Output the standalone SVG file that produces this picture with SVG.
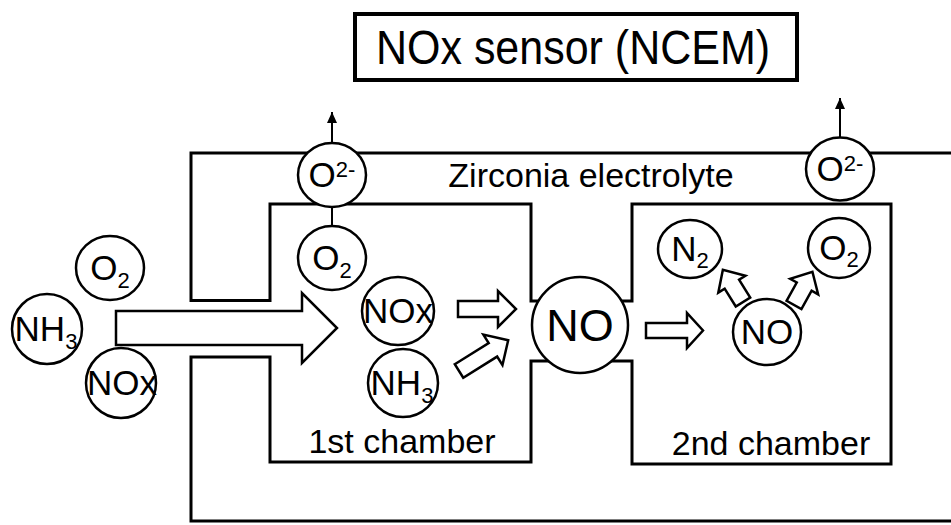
<svg xmlns="http://www.w3.org/2000/svg" width="951" height="525" viewBox="0 0 951 525">
<defs>
<style>
.wall{fill:none;stroke:#000;stroke-width:3;stroke-linejoin:miter}
.mol{fill:#fff;stroke:#000;stroke-width:2.5}
.arr{fill:#fff;stroke:#000;stroke-width:2.5;stroke-linejoin:miter}
.t{font-family:"Liberation Sans",Arial,sans-serif;fill:#000}
.lbl{font-size:35px;text-anchor:middle}
.sub{font-size:22px}
.cap{font-size:34px;text-anchor:middle}
</style>
<marker id="ah" viewBox="0 0 11 10" refX="11" refY="5" markerWidth="11" markerHeight="10" markerUnits="userSpaceOnUse" orient="auto">
<path d="M0,0 L11,5 L0,10 Z" fill="#000"/>
</marker>
<path id="sa" d="M0,-8 H40 V-18 L58,0 L40,18 V8 H0 Z"/>
<path id="ta" d="M0,-8.5 H21 V-16 L38,0 L21,16 V8.5 H0 Z"/>
</defs>
<rect width="951" height="525" fill="#fff"/>

<g id="title">
<rect x="355" y="14" width="442" height="66" fill="#fff" stroke="#000" stroke-width="4"/>
<text class="t" transform="translate(573,64) scale(1,1.1)" font-size="43" text-anchor="middle">NOx sensor (NCEM)</text>
</g>

<g id="structure">
<path class="wall" d="M951,153 H191 V300.5 H270 V204 H531 V301 H632 V204 H891 V464 H632 V361 H531 V462 H270 V357 H191 V521 H951"/>
<text class="t cap" x="591" y="187">Zirconia electrolyte</text>
<text class="t cap" x="402" y="453">1st chamber</text>
<text class="t cap" x="771" y="455">2nd chamber</text>
</g>

<g id="connectors">
<line x1="332" y1="143" x2="332" y2="112" stroke="#000" stroke-width="2" marker-end="url(#ah)"/>
<line x1="840" y1="137" x2="840" y2="98" stroke="#000" stroke-width="2" marker-end="url(#ah)"/>
<line x1="332" y1="205" x2="332" y2="227" stroke="#000" stroke-width="2"/>
<path class="arr" d="M116,311 H302 V293 L337,328 L302,363 V345 H116 Z"/>
<use href="#sa" class="arr" transform="translate(458,309)"/>
<use href="#sa" class="arr" transform="translate(459,371) rotate(-32)"/>
<path class="arr" d="M646,323 H687 V313 L703,330.5 L687,348 V338 H646 Z"/>
<use href="#ta" class="arr" transform="translate(743,302) rotate(-122)"/>
<use href="#ta" class="arr" transform="translate(794,305) rotate(-61)"/>
</g>

<g id="o2m-left">
<ellipse class="mol" cx="332" cy="175" rx="34" ry="32"/>
<text class="t lbl" x="332" y="187">O<tspan class="sub" dy="-10">2-</tspan></text>
</g>
<g id="o2m-right">
<ellipse class="mol" cx="840" cy="169" rx="34" ry="31.5"/>
<text class="t lbl" x="840" y="181">O<tspan class="sub" dy="-10">2-</tspan></text>
</g>

<g id="in-o2">
<ellipse class="mol" cx="110" cy="268" rx="34" ry="32"/>
<text class="t lbl" x="110" y="280">O<tspan class="sub" dy="8">2</tspan></text>
</g>
<g id="in-nh3">
<ellipse class="mol" cx="47" cy="329" rx="35" ry="35"/>
<text class="t lbl" x="46" y="341">NH<tspan class="sub" dy="8">3</tspan></text>
</g>
<g id="in-nox">
<ellipse class="mol" cx="121" cy="383" rx="35" ry="35"/>
<text class="t lbl" x="122" y="395">NOx</text>
</g>

<g id="c1-o2">
<ellipse class="mol" cx="332" cy="258" rx="34" ry="32"/>
<text class="t lbl" x="332" y="270">O<tspan class="sub" dy="8">2</tspan></text>
</g>
<g id="c1-nox">
<ellipse class="mol" cx="398" cy="311" rx="36" ry="34"/>
<text class="t lbl" x="398" y="323">NOx</text>
</g>
<g id="c1-nh3">
<ellipse class="mol" cx="403" cy="383" rx="35" ry="34"/>
<text class="t lbl" x="402" y="395">NH<tspan class="sub" dy="8">3</tspan></text>
</g>

<g id="no-big">
<circle class="mol" cx="580" cy="325" r="48"/>
<text class="t" x="580" y="341" font-size="45" text-anchor="middle">NO</text>
</g>

<g id="c2-n2">
<ellipse class="mol" cx="690" cy="249" rx="32" ry="29"/>
<text class="t lbl" x="690" y="261">N<tspan class="sub" dy="7">2</tspan></text>
</g>
<g id="c2-o2">
<ellipse class="mol" cx="839" cy="248" rx="31" ry="30"/>
<text class="t lbl" x="839" y="260">O<tspan class="sub" dy="7">2</tspan></text>
</g>
<g id="c2-no">
<ellipse class="mol" cx="767" cy="332" rx="34" ry="33"/>
<text class="t lbl" x="767" y="344">NO</text>
</g>
</svg>
